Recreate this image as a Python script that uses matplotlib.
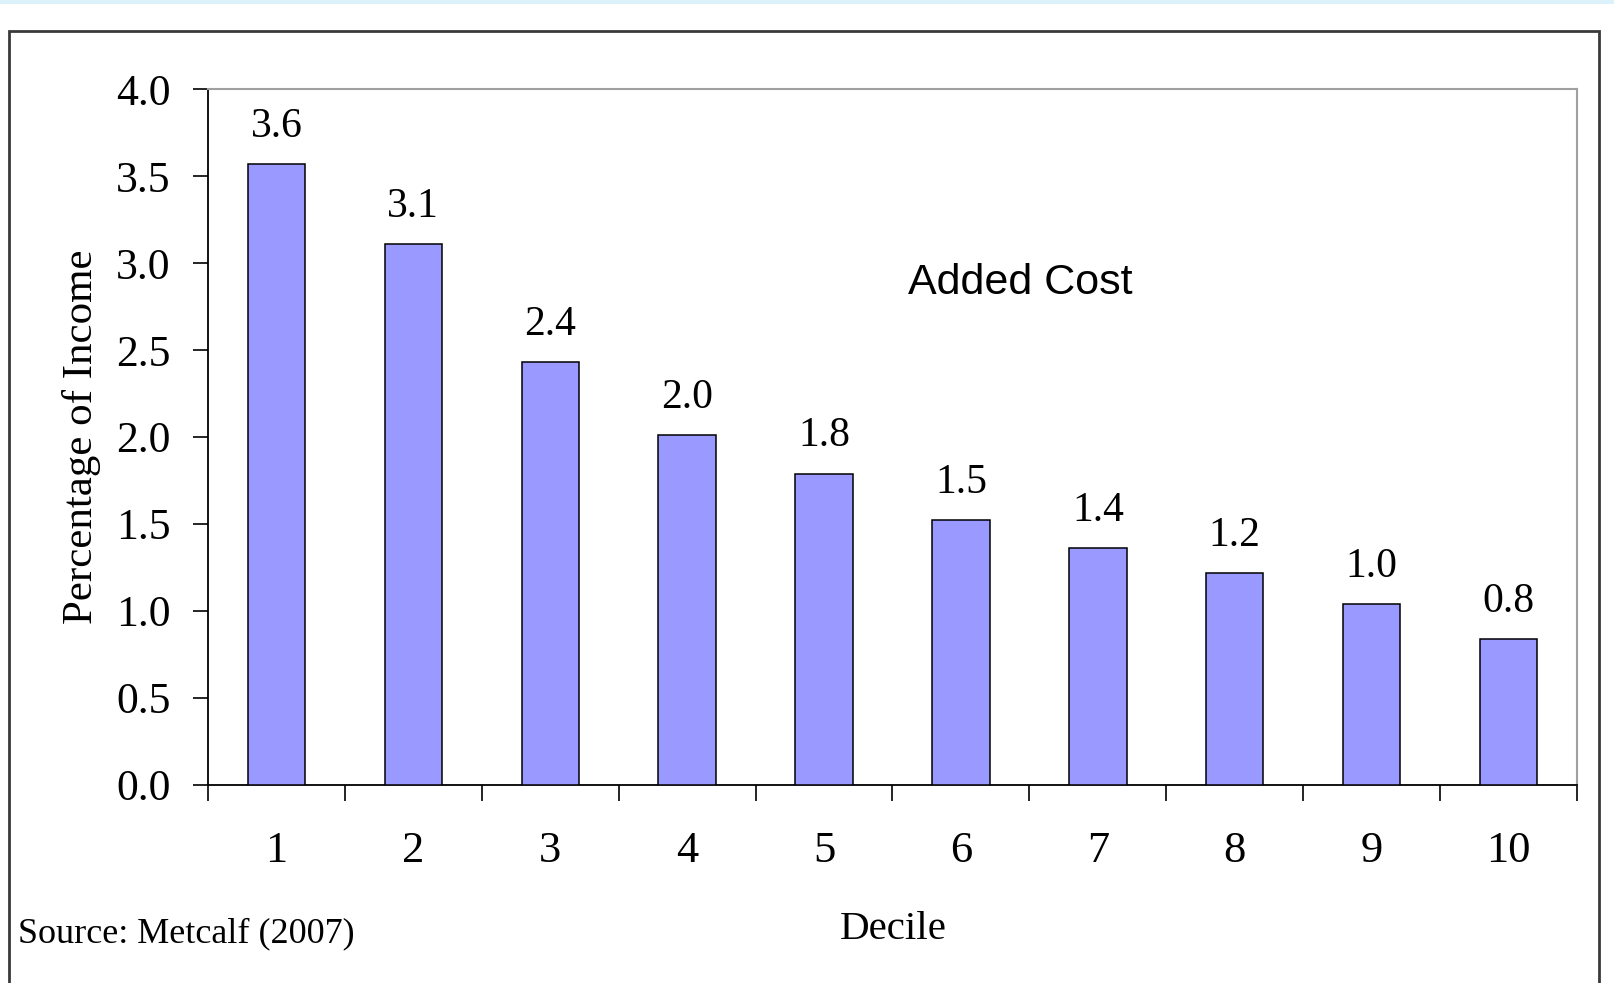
import numpy as np
import matplotlib
matplotlib.use("Agg")
import matplotlib.pyplot as plt
from matplotlib.patches import Rectangle

# added cost of the policy as a share of income, by income decile
deciles = [1, 2, 3, 4, 5, 6, 7, 8, 9, 10]
cost_pct = [3.57, 3.11, 2.43, 2.01, 1.79, 1.52, 1.36, 1.22, 1.04, 0.84]
y_ticks = [0.0, 0.5, 1.0, 1.5, 2.0, 2.5, 3.0, 3.5, 4.0]

W, H, DPI = 1615, 983, 100
serif = "Liberation Serif"
sans = "Liberation Sans"

fig = plt.figure(figsize=(W / DPI, H / DPI), dpi=DPI)
fig.patch.set_facecolor("white")

# thin light band across the top and the outer frame
fig.patches.append(Rectangle((0, 1 - 4 / H), 1, 4 / H, transform=fig.transFigure,
                             facecolor="#dcf2fb", edgecolor="none"))
fig.patches.append(Rectangle((9 / W, -0.05), (1599 - 9) / W, 1 - 31 / H + 0.05,
                             transform=fig.transFigure, facecolor="none",
                             edgecolor="#3a3a3a", linewidth=2.0))

ax = fig.add_axes([208 / W, 1 - 784.7 / H, (1577 - 208) / W, (784.7 - 89.3) / H])

ax.bar(deciles, cost_pct, width=0.42, color="#9999ff", edgecolor="black",
       linewidth=1.1, zorder=3)

for x, v in zip(deciles, cost_pct):
    ax.annotate(f"{v:.1f}", (x, v), xytext=(0, 19.5), textcoords="offset points",
                ha="center", va="baseline", fontsize=30, family=serif)

ax.set_xlim(0.5, 10.5)
ax.set_ylim(0, 4.0)

# ticks sit on the bin edges, labels under the bar centres
ax.set_xticks(np.arange(0.5, 11, 1.0))
ax.set_xticklabels([])
ax.set_xticks(deciles, minor=True)
ax.set_xticklabels([str(d) for d in deciles], minor=True, fontsize=32, family=serif)
ax.tick_params(axis="x", which="major", direction="out", length=11.5, width=1.2)
ax.tick_params(axis="x", which="minor", length=0, pad=33.5)

ax.set_yticks(y_ticks)
ax.set_yticklabels([f"{t:.1f}" for t in y_ticks], fontsize=31.5, family=serif)
ax.tick_params(axis="y", direction="out", length=10.8, width=1.2, pad=16)

for side in ("left", "bottom"):
    ax.spines[side].set_color("black")
    ax.spines[side].set_linewidth(1.3)
for side in ("top", "right"):
    ax.spines[side].set_color("#a0a0a0")
    ax.spines[side].set_linewidth(1.5)

fig.text(82 / W, 1 - 437 / H, "Percentage of Income", rotation=90, ha="center",
         va="center", fontsize=31, family=serif)
fig.text(893 / W, 1 - 939 / H, "Decile", ha="center", va="baseline",
         fontsize=29.5, family=serif)
fig.text(908 / W, 1 - 294 / H, "Added Cost", ha="left", va="baseline",
         fontsize=31, family=sans)
fig.text(18 / W, 1 - 942 / H, "Source: Metcalf (2007)", ha="left", va="baseline",
         fontsize=26, family=serif)

fig.savefig("out.png", dpi=DPI)
